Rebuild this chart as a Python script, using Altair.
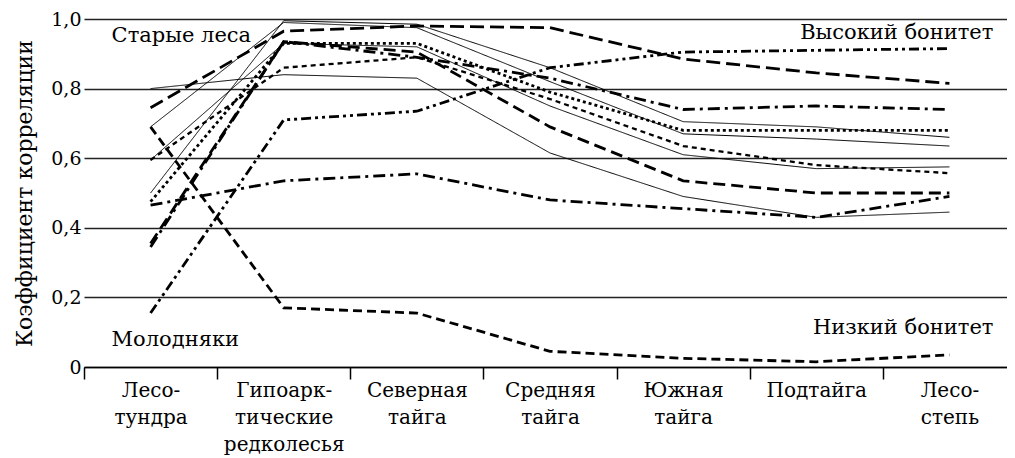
import altair as alt
import pandas as pd

FONT = "DejaVu Serif"

zones = ["Лесо-|тундра", "Гипоарк-|тические|редколесья", "Северная|тайга",
         "Средняя|тайга", "Южная|тайга", "Подтайга", "Лесо-|степь"]

# correlation coefficients per zone
solid_a = [0.80, 0.84, 0.83, 0.615, 0.49, 0.43, 0.445]
solid_1 = [0.50, 0.995, 0.985, 0.86, 0.705, 0.69, 0.66]
solid_2 = [0.69, 0.99, 0.975, 0.82, 0.67, 0.655, 0.635]
solid_3 = [0.595, 0.93, 0.92, 0.75, 0.61, 0.57, 0.575]
dash_high = [0.745, 0.965, 0.98, 0.975, 0.885, 0.845, 0.815]
dash_mid = [0.355, 0.935, 0.905, 0.69, 0.535, 0.50, 0.50]
dashdot_mid = [0.345, 0.935, 0.89, 0.83, 0.74, 0.75, 0.74]
young_high = [0.155, 0.71, 0.735, 0.86, 0.905, 0.91, 0.915]
dashdot_low = [0.465, 0.535, 0.555, 0.48, 0.455, 0.43, 0.49]
low_site = [0.69, 0.17, 0.155, 0.045, 0.025, 0.015, 0.035]
dotted_1 = [0.475, 0.93, 0.93, 0.79, 0.68, 0.68, 0.68]
dotted_2 = [0.595, 0.86, 0.89, 0.77, 0.635, 0.58, 0.557]

series_names = ["s_a", "s_1", "s_2", "s_3", "d_high", "d_mid", "dd_mid",
                "young_high", "dd_low", "low_site", "dot_1", "dot_2"]
series_values = [solid_a, solid_1, solid_2, solid_3, dash_high, dash_mid,
                 dashdot_mid, young_high, dashdot_low, low_site, dotted_1, dotted_2]
series_dash = [[1, 0], [1, 0], [1, 0], [1, 0], [14, 6], [12, 6],
               [12, 5, 3, 5], [10, 4, 3, 4, 3, 4], [12, 5, 3, 5], [9, 5],
               [3, 3], [5, 4]]
series_width = [1, 1, 1, 1, 2.8, 2.8, 2.8, 2.8, 2.8, 2.8, 2.8, 2.3]

rows = []
for name, vals in zip(series_names, series_values):
    for z, v in zip(zones, vals):
        rows.append({"series": name, "zone": z, "value": v})
df = pd.DataFrame(rows)

ann_left_text = ["Старые леса", "Молодняки"]
ann_left_value = [0.951, 0.078]
ann_right_text = ["Высокий бонитет", "Низкий бонитет"]
ann_right_value = [0.96, 0.112]

ann_left = pd.DataFrame({"text": ann_left_text, "zone": [zones[0]] * 2, "value": ann_left_value})
ann_right = pd.DataFrame({"text": ann_right_text, "zone": [zones[-1]] * 2, "value": ann_right_value})

x_enc = alt.X(
    "zone:N", sort=zones,
    scale=alt.Scale(type="band", paddingInner=0, paddingOuter=0),
    axis=alt.Axis(
        title=None, labelExpr="split(datum.label, '|')", tickBand="extent",
        tickSize=12, labelAngle=0, labelFontSize=20, labelFont=FONT,
        labelLineHeight=27, labelPadding=1, labelColor="black",
        domainColor="black", domainWidth=1.5, tickColor="black", tickWidth=1.5,
        labelBaseline="top",
    ),
)
y_enc = alt.Y(
    "value:Q", scale=alt.Scale(domain=[0, 1], nice=False),
    axis=alt.Axis(
        values=[0, 0.2, 0.4, 0.6, 0.8, 1.0],
        labelExpr="datum.value == 0 ? '0' : replace(format(datum.value, '.1f'), '.', ',')",
        grid=True, gridColor="#222", gridWidth=1.3, domain=False, ticks=False,
        labelFontSize=19, labelFont=FONT, labelColor="black", labelPadding=3,
        title="Коэффициент корреляции", titleFont=FONT, titleFontSize=22,
        titleFontWeight="normal", titleColor="black", titlePadding=14,
    ),
)

layers = []
for i, (name, dash, w) in enumerate(zip(series_names, series_dash, series_width)):
    enc = dict(x=x_enc, y=y_enc) if i == 0 else dict(x=alt.X("zone:N", sort=zones), y="value:Q")
    layers.append(
        alt.Chart(df).transform_filter(alt.datum.series == name)
        .mark_line(color="black", strokeDash=dash, strokeWidth=w)
        .encode(**enc)
    )

left_text = alt.Chart(ann_left).mark_text(
    align="left", baseline="middle", dx=-39, font=FONT, fontSize=21, color="black"
).encode(x=alt.X("zone:N", sort=zones), y="value:Q", text="text:N")

right_text = alt.Chart(ann_right).mark_text(
    align="right", baseline="middle", dx=44, font=FONT, fontSize=21, color="black"
).encode(x=alt.X("zone:N", sort=zones), y="value:Q", text="text:N")

chart = alt.layer(*layers, left_text, right_text).properties(
    width=932, height=348,
    autosize=alt.AutoSizeParams(type="none"),
    padding={"left": 76, "top": 11, "right": -9, "bottom": 91},
).configure_view(stroke=None)

chart.save("out.html", embed_options={"renderer": "svg", "actions": False})
